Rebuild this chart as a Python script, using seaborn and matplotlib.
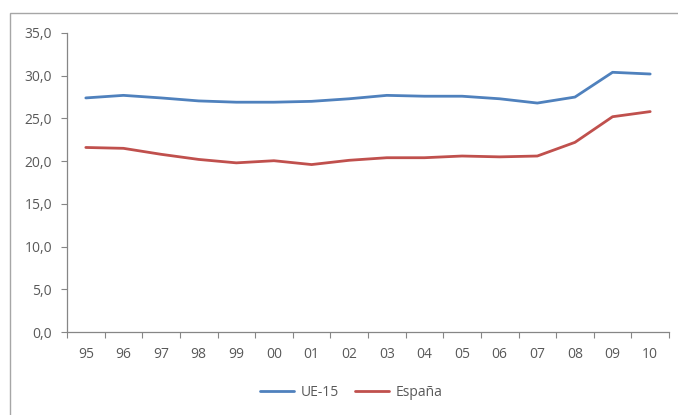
import matplotlib
matplotlib.use("Agg")
import matplotlib.pyplot as plt
import seaborn as sns
import pandas as pd
from matplotlib.patches import Rectangle
from matplotlib.ticker import FuncFormatter

years = ['95', '96', '97', '98', '99', '00', '01', '02', '03', '04', '05', '06', '07', '08', '09', '10']
ue15 = [27.4, 27.7, 27.4, 27.05, 26.9, 26.9, 27.0, 27.3, 27.7, 27.6, 27.6, 27.3, 26.8, 27.5, 30.4, 30.2]
espana = [21.6, 21.5, 20.8, 20.2, 19.8, 20.05, 19.6, 20.1, 20.4, 20.4, 20.6, 20.5, 20.6, 22.2, 25.2, 25.8]
series_names = ['UE-15', 'España']
colors = ['#4F81BD', '#C0504D']

txt = '#595959'
axcol = '#868686'

data = pd.DataFrame({
    'pos': list(range(len(years))) * 2,
    'valor': ue15 + espana,
    'serie': [series_names[0]] * len(years) + [series_names[1]] * len(years),
})

sns.set_style('white')
plt.rcParams['font.family'] = ['Open Sans', 'DejaVu Sans']

fig = plt.figure(figsize=(6.78, 4.15), dpi=100)
ax = fig.add_axes([67 / 678, 1 - 332 / 415, (669 - 67) / 678, (332 - 33) / 415])

sns.lineplot(data=data, x='pos', y='valor', hue='serie', palette=colors,
             linewidth=2, ax=ax, legend=False)

ax.set_xlim(-0.5, len(years) - 0.5)
ax.set_ylim(0, 35)
ax.set_yticks([0, 5, 10, 15, 20, 25, 30, 35])
ax.yaxis.set_major_formatter(FuncFormatter(lambda v, p: ('%.1f' % v).replace('.', ',')))
ax.tick_params(axis='y', length=4.3, width=0.8, color=axcol, labelcolor=txt,
               labelsize=10, pad=6.5, left=True)

ax.set_xticks([i - 0.5 for i in range(len(years) + 1)])
ax.set_xticklabels([])
ax.set_xticks(range(len(years)), minor=True)
ax.set_xticklabels(years, minor=True)
ax.tick_params(axis='x', which='major', length=4, width=0.8, color=axcol, bottom=True)
ax.tick_params(axis='x', which='minor', length=0, labelcolor=txt, labelsize=10, pad=11)

ax.set_xlabel('')
ax.set_ylabel('')
for s in ['top', 'right']:
    ax.spines[s].set_visible(False)
for s in ['left', 'bottom']:
    ax.spines[s].set_color(axcol)
    ax.spines[s].set_linewidth(0.9)
ax.grid(False)

handles = [plt.Line2D([], [], color=c, linewidth=2) for c in colors]
fig.legend(handles, series_names, loc='center', bbox_to_anchor=(0.518, 1 - 392.5 / 415),
           ncol=2, frameon=False, fontsize=10, handlelength=2.45, handletextpad=0.45,
           columnspacing=1.2, labelcolor=txt)

fig.patches.append(Rectangle((10 / 678, -0.05), 1.0, 1 - 13 / 415 + 0.05,
                             transform=fig.transFigure, fill=False,
                             edgecolor='#A6A6A6', linewidth=1.0))

fig.savefig('out.png', dpi=100)
